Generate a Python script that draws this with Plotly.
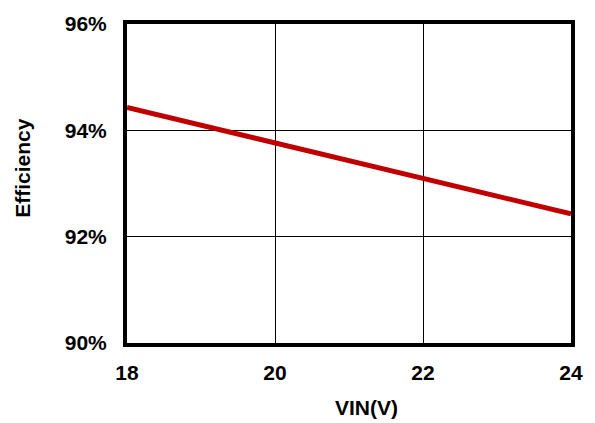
import plotly.graph_objects as go

vin = [18, 19, 20, 21, 22, 23, 24]
efficiency = [94.43, 94.10, 93.77, 93.43, 93.10, 92.77, 92.43]
x_ticks = [18, 20, 22, 24]
y_ticks = [90, 92, 94, 96]
y_tick_labels = ["90%", "92%", "94%", "96%"]
x_title = "VIN(V)"
y_title = "Efficiency"

font_family = "Liberation Sans, Arial, sans-serif"

fig = go.Figure()
fig.add_trace(go.Scatter(
    x=vin, y=efficiency, mode="lines",
    line=dict(color="#C00000", width=5),
    showlegend=False, cliponaxis=True,
))

axis_common = dict(
    showline=True, linecolor="black", linewidth=4, mirror=True,
    showgrid=True, gridcolor="black", gridwidth=1.3,
    zeroline=False, ticks="",
    tickfont=dict(family=font_family, size=21, color="black", weight="bold"),
)

fig.update_xaxes(range=[18, 24], tickvals=x_ticks, ticklabelstandoff=8, **axis_common)
fig.update_yaxes(range=[90, 96], tickvals=y_ticks, ticktext=y_tick_labels,
                 ticklabelstandoff=12, **axis_common)

title_font = dict(family=font_family, size=21, color="black", weight="bold")
fig.add_annotation(text=x_title, xref="paper", yref="paper", x=0.539, y=-0.203,
                   xanchor="center", yanchor="middle", showarrow=False, font=title_font)
fig.add_annotation(text=y_title, xref="paper", yref="paper", x=-0.235, y=0.548,
                   xanchor="center", yanchor="middle", textangle=-90,
                   showarrow=False, font=title_font)

fig.update_layout(
    autosize=True,
    margin=dict(l=127, r=17, t=18, b=80),
    paper_bgcolor="white", plot_bgcolor="white",
    font=dict(family=font_family, color="black"),
)

fig.write_html(
    "out.html",
    default_width="100vw",
    default_height="100vh",
    config={"displayModeBar": False, "responsive": True},
    post_script="document.body.style.margin='0';document.body.style.overflow='hidden';window.dispatchEvent(new Event('resize'));",
)
